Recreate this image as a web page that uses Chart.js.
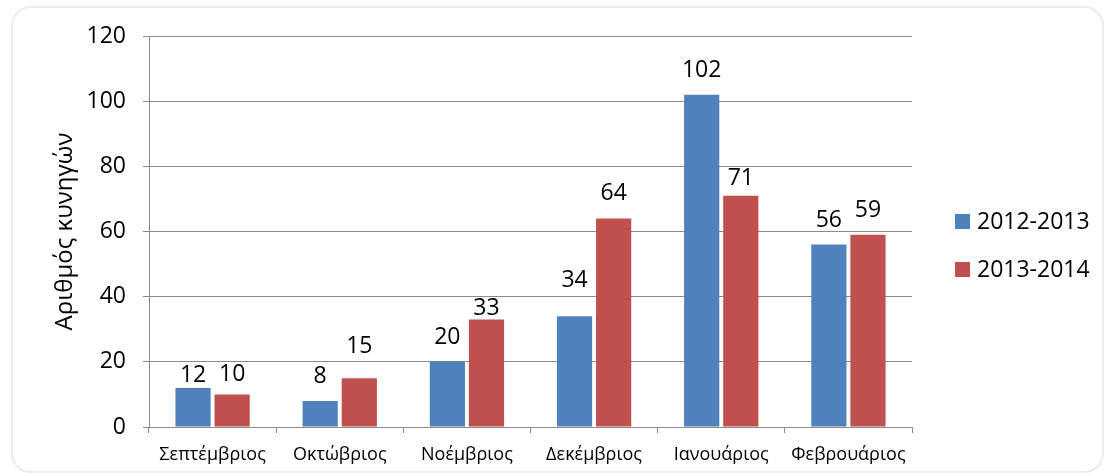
<!DOCTYPE html>
<html>
<head>
<meta charset="utf-8">
<script src="https://cdn.jsdelivr.net/npm/chart.js@4.4.1/dist/chart.umd.min.js"></script>
<style>
  html, body { margin: 0; padding: 0; background: #ffffff; }
  #wrap { position: relative; width: 1105px; height: 476px; overflow: hidden; }
  #frame {
    position: absolute; left: 11px; top: 6px; width: 1093px; height: 467px;
    border: 2px solid #ececec; border-radius: 20px; box-sizing: border-box;
  }
  #c { position: absolute; left: 0; top: 0; }
</style>
</head>
<body>
<div id="wrap">
  <div id="frame"></div>
  <canvas id="c" width="1105" height="476"></canvas>
</div>
<script>
// Monthly hunter counts for two hunting seasons
const months = ['Σεπτέμβριος', 'Οκτώβριος', 'Νοέμβριος', 'Δεκέμβριος', 'Ιανουάριος', 'Φεβρουάριος'];
const seasonNames = ['2012-2013', '2013-2014'];
const season1 = [12, 8, 20, 34, 102, 56];
const season2 = [10, 15, 33, 64, 71, 59];
const yTicks = [0, 20, 40, 60, 80, 100, 120];

// Gap in px between each bar top and its value label baseline
const labelGap = [
  [6, 18, 18, 29, 18, 18],
  [13, 25, 4, 18, 11, 18]
];

const FONT = "'Open Sans', 'Noto Sans', sans-serif";
const GRID = '#8a8a8a';
const colors = ['#4F81BD', '#C0504D'];

// Value labels above every bar
const valueLabels = {
  id: 'valueLabels',
  afterDatasetsDraw(chart) {
    const ctx = chart.ctx;
    ctx.save();
    ctx.font = '23px ' + FONT;
    ctx.fillStyle = '#000';
    ctx.textAlign = 'center';
    ctx.textBaseline = 'alphabetic';
    chart.data.datasets.forEach((ds, di) => {
      const meta = chart.getDatasetMeta(di);
      meta.data.forEach((bar, i) => {
        ctx.fillText(String(ds.data[i]), bar.x, bar.y - labelGap[di][i]);
      });
    });
    ctx.restore();
  }
};

// Legend to the right of the plot, built from the datasets
const sideLegend = {
  id: 'sideLegend',
  afterDraw(chart) {
    const ctx = chart.ctx;
    ctx.save();
    ctx.font = '23px ' + FONT;
    ctx.textAlign = 'left';
    ctx.textBaseline = 'middle';
    chart.data.datasets.forEach((ds, i) => {
      const y = 214 + i * 48;
      ctx.fillStyle = ds.backgroundColor;
      ctx.fillRect(955, y, 15, 15);
      ctx.fillStyle = '#000';
      ctx.fillText(ds.label, 977, y + 8);
    });
    ctx.restore();
  }
};

new Chart(document.getElementById('c'), {
  type: 'bar',
  data: {
    labels: months,
    datasets: [
      { label: seasonNames[0], data: season1, backgroundColor: colors[0] },
      { label: seasonNames[1], data: season2, backgroundColor: colors[1] }
    ]
  },
  options: {
    responsive: false,
    animation: false,
    layout: { padding: { top: 36, right: 193, bottom: 0, left: 0 } },
    datasets: {
      bar: { categoryPercentage: 0.615, barPercentage: 0.9 }
    },
    plugins: {
      legend: { display: false },
      tooltip: { enabled: false }
    },
    scales: {
      x: {
        offset: true,
        grid: {
          offset: true,
          drawOnChartArea: false,
          drawTicks: true,
          tickLength: 6,
          color: GRID,
          lineWidth: 1
        },
        border: { color: GRID, width: 1 },
        ticks: {
          color: '#000',
          font: { family: FONT, size: 18 },
          padding: 11,
          maxRotation: 0,
          autoSkip: false
        },
        afterFit(scale) { scale.height = 49; }
      },
      y: {
        min: 0,
        max: 120,
        afterBuildTicks(scale) { scale.ticks = yTicks.map(v => ({ value: v })); },
        grid: {
          color: GRID,
          lineWidth: 1,
          drawTicks: true,
          tickLength: 6
        },
        border: { color: GRID, width: 1 },
        ticks: {
          color: '#000',
          font: { family: FONT, size: 23 },
          padding: 17
        },
        title: {
          display: true,
          text: 'Αριθμός κυνηγών',
          color: '#000',
          font: { family: FONT, size: 24 },
          padding: { top: 51, bottom: 0 }
        },
        afterFit(scale) { scale.width = 149; }
      }
    }
  },
  plugins: [valueLabels, sideLegend]
});
</script>
</body>
</html>
